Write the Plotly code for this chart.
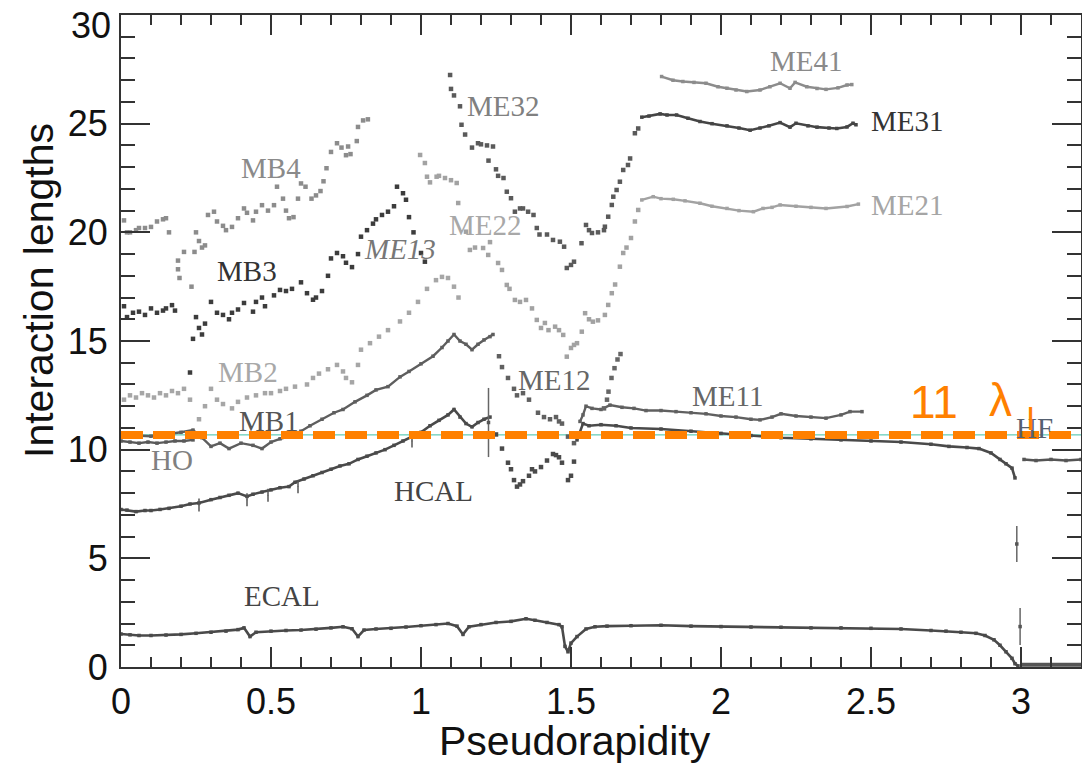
import plotly.graph_objects as go

# ---------------- data ----------------
ECAL_ETA = [0.00,0.03,0.06,0.10,0.15,0.20,0.25,0.30,0.35,0.39,0.41,0.43,0.45,0.50,0.55,0.60,0.65,0.70,0.74,0.77,
            0.79,0.81,0.85,0.90,0.95,1.00,1.05,1.09,1.12,1.14,1.16,1.20,1.25,1.30,1.35,1.38,1.42,1.46,1.47,1.48,
            1.49,1.50,1.52,1.55,1.58,1.62,1.70,1.80,1.90,2.00,2.10,2.20,2.30,2.40,2.50,2.60,2.70,2.75,2.80,2.85,
            2.88,2.91,2.93,2.95,2.97,2.98,2.99]
ECAL_VAL = [1.52,1.48,1.45,1.45,1.47,1.50,1.55,1.60,1.65,1.72,1.80,1.40,1.60,1.65,1.68,1.70,1.74,1.80,1.85,1.76,
            1.40,1.70,1.75,1.78,1.84,1.90,1.95,2.00,1.88,1.50,1.85,1.95,2.05,2.10,2.22,2.15,2.05,1.95,1.85,0.95,
            0.70,1.10,1.40,1.75,1.85,1.88,1.90,1.92,1.88,1.86,1.84,1.83,1.80,1.80,1.78,1.75,1.68,1.65,1.60,1.55,
            1.45,1.25,1.00,0.70,0.40,0.15,0.05]

HF_FLOOR_ETA = [3.00, 3.05, 3.10, 3.15, 3.20]
HF_FLOOR_VAL = [0.10, 0.10, 0.10, 0.10, 0.10]

HCAL_ETA = [0.00,0.02,0.05,0.08,0.10,0.13,0.16,0.20,0.23,0.26,0.30,0.33,0.36,0.39,0.42,0.44,0.47,0.50,0.53,0.56,
            0.58,0.61,0.64,0.67,0.70,0.73,0.76,0.79,0.82,0.85,0.88,0.91,0.94,0.97,1.00,1.03,1.06,1.09,1.11,1.13,
            1.15,1.17,1.19,1.21,1.23]
HCAL_VAL = [7.25,7.22,7.15,7.20,7.20,7.25,7.30,7.40,7.50,7.55,7.70,7.80,7.90,8.00,7.85,7.95,8.05,8.15,8.25,8.30,
            8.50,8.65,8.80,8.95,9.10,9.25,9.35,9.55,9.70,9.85,10.00,10.20,10.40,10.60,10.80,11.10,11.35,11.60,11.85,11.50,
            11.20,11.05,11.25,11.40,11.50]

HCAL_GAP_ETA = [1.25,1.27,1.29,1.30,1.31,1.32,1.33,1.34,1.36,1.37,1.38,1.40,1.42,1.44,1.45,1.46,1.47,1.49,1.50,1.51]
HCAL_GAP_VAL = [10.70,10.05,9.40,9.10,8.60,8.30,8.40,8.55,8.80,9.10,9.00,9.20,9.50,9.80,9.75,9.65,9.40,8.60,8.80,9.45]

HCAL_END_ETA = [1.52,1.54,1.56,1.60,1.65,1.70,1.80,1.90,2.00,2.10,2.20,2.30,2.40,2.50,2.60,2.70,2.76,2.82,2.86,2.90,
                2.93,2.95,2.97,2.98]
HCAL_END_VAL = [10.45,11.20,11.10,11.15,11.10,11.00,10.95,10.85,10.75,10.65,10.55,10.50,10.45,10.40,10.35,10.25,10.15,10.10,10.05,9.85,
                9.55,9.35,9.15,8.70]

HCAL_TICK_ETA = [0.26, 0.42, 0.49, 0.59, 0.97]
HCAL_TICK_VAL = [7.45, 7.70, 7.90, 8.30, 10.40]
HCAL_TICK_HALF = [0.30, 0.30, 0.30, 0.30, 0.30]

HF_ETA = [3.01, 3.05, 3.10, 3.15, 3.20]
HF_VAL = [9.55, 9.50, 9.55, 9.50, 9.55]

HO_ETA = [0.00,0.03,0.06,0.09,0.12,0.15,0.18,0.21,0.24]
HO_VAL = [10.40,10.35,10.30,10.35,10.30,10.35,10.40,10.40,10.45]

MB1_ETA = [0.01,0.05,0.10,0.15,0.20,0.24,0.27,0.30,0.33,0.36,0.40,0.44,0.47,0.50,0.53,0.56,0.60,0.63,0.67,0.71,
           0.74,0.78,0.82,0.85,0.89,0.93,0.96,1.00,1.04,1.07,1.09,1.11,1.13,1.15,1.17,1.19,1.21,1.23,1.24]
MB1_VAL = [10.75,10.65,10.62,10.70,10.80,10.90,10.55,10.15,10.30,10.05,10.30,10.20,10.05,10.35,10.50,10.60,10.85,11.10,11.40,11.70,
           11.85,12.20,12.50,12.75,12.90,13.35,13.60,13.95,14.30,14.70,15.00,15.30,15.00,14.85,14.60,14.85,15.05,15.20,15.30]

ME12_ETA = [1.26,1.27,1.29,1.31,1.32,1.34,1.36,1.39,1.41,1.43,1.45,1.46,1.47,1.49,1.51]
ME12_VAL = [14.30,13.80,13.30,12.80,12.50,12.60,12.30,11.70,11.50,11.40,11.50,11.30,11.20,10.60,10.30]

ME11_ETA = [1.53,1.54,1.55,1.57,1.60,1.63,1.67,1.71,1.75,1.80,1.85,1.90,1.95,2.00,2.05,2.10,2.13,2.17,2.20,2.25,
            2.30,2.35,2.40,2.43,2.47]
ME11_VAL = [11.30,11.60,12.00,11.90,11.85,12.05,11.95,11.90,11.80,11.80,11.75,11.70,11.65,11.55,11.50,11.40,11.37,11.50,11.65,11.55,
            11.50,11.45,11.60,11.75,11.75]

ME13_LOW_ETA = [1.610,1.620,1.625,1.635,1.645,1.655,1.665]
ME13_LOW_VAL = [11.90,12.30,12.67,13.30,13.75,14.15,14.40]

MB2_ETA = [0.01,0.03,0.05,0.07,0.09,0.11,0.13,0.15,0.17,0.19,0.21,0.23,0.26,0.28,0.30,0.32,0.34,0.37,0.39,0.42,
           0.45,0.48,0.50,0.53,0.55,0.58,0.62,0.64,0.66,0.69,0.72,0.74,0.75,0.77,0.79,0.80,0.83,0.86,0.89,0.93,
           0.96,0.99,1.02,1.05,1.07,1.09,1.11,1.125]
MB2_VAL = [12.30,12.50,12.40,12.60,12.50,12.40,12.60,12.50,12.70,12.60,12.80,12.30,11.40,12.00,12.80,12.30,12.10,11.90,12.20,12.40,
           12.50,12.60,12.60,12.70,12.80,12.90,13.00,13.30,13.50,13.70,13.90,13.60,13.30,13.10,13.90,14.60,14.90,15.20,15.50,15.90,
           16.30,16.80,17.40,17.80,17.95,17.90,17.50,17.00]

MB3_ETA = [0.01,0.02,0.04,0.06,0.08,0.10,0.12,0.14,0.15,0.17,0.18,0.23,0.24,0.25,0.26,0.27,0.28,0.30,0.32,0.34,
           0.36,0.37,0.39,0.41,0.44,0.45,0.47,0.48,0.51,0.53,0.55,0.57,0.60,0.62,0.64,0.65,0.67,0.69,0.70,0.72,
           0.74,0.75,0.77,0.79,0.80,0.82,0.84,0.85,0.87,0.89,0.91,0.92,0.94,0.95,0.96,0.975,1.00,1.013]
MB3_VAL = [16.60,16.10,16.30,16.35,16.20,16.50,16.30,16.40,16.50,16.65,16.40,13.55,15.10,16.10,15.60,15.30,15.80,16.80,16.30,16.20,
           16.00,16.30,16.45,16.75,16.35,16.80,17.00,16.60,17.10,17.35,17.30,17.40,17.70,17.20,16.90,17.00,17.30,18.00,18.80,19.05,
           18.90,18.60,18.40,19.00,19.80,20.10,20.40,20.60,20.80,20.95,21.20,22.10,21.80,21.50,20.70,20.00,19.05,18.65]

MB4_ETA = [0.01,0.02,0.03,0.05,0.06,0.08,0.10,0.12,0.14,0.15,0.16,0.19,0.19,0.195,0.21,0.235,0.245,0.25,0.26,0.27,
           0.28,0.29,0.31,0.32,0.34,0.35,0.37,0.39,0.41,0.42,0.44,0.45,0.47,0.49,0.51,0.52,0.54,0.55,0.56,0.575,
           0.59,0.60,0.615,0.635,0.65,0.665,0.675,0.685,0.70,0.72,0.735,0.75,0.757,0.765,0.786,0.79,0.807,0.823]
MB4_VAL = [20.55,20.00,20.00,20.10,20.20,20.20,20.25,20.50,20.60,20.65,20.00,18.70,18.30,17.90,19.10,17.50,19.10,20.00,19.60,19.30,
           19.40,20.80,20.95,20.50,20.30,20.10,20.25,20.65,21.10,20.90,20.55,20.95,21.25,21.00,21.25,22.10,21.55,21.00,20.65,20.70,
           21.55,22.25,22.10,21.55,21.70,21.90,22.35,22.95,23.70,24.10,23.90,23.55,23.95,23.60,24.20,24.85,25.15,25.20]

ME32_ETA = [1.097,1.100,1.110,1.130,1.135,1.147,1.170,1.190,1.200,1.220,1.240,1.225,1.250,1.257,1.275,1.286,1.300,1.313,1.330,1.340,
            1.357,1.375,1.386,1.395,1.420,1.440,1.463,1.477,1.486,1.500,1.510,1.535,1.550,1.560,1.570,1.590,1.610,1.613,1.624,1.636,
            1.641,1.652,1.663,1.674,1.690,1.697,1.713,1.724]
ME32_VAL = [27.24,26.60,26.30,25.80,24.95,24.50,23.90,24.10,24.05,24.00,23.95,23.30,22.90,22.60,22.50,21.87,21.57,20.95,21.10,21.10,
            20.95,20.80,20.20,19.90,19.90,19.65,19.57,19.34,18.36,18.50,18.65,19.50,20.34,20.10,19.97,20.00,20.10,20.26,20.72,21.26,
            21.64,21.95,22.33,22.87,23.10,23.40,24.56,24.78]

ME31_ETA = [1.736,1.760,1.797,1.820,1.852,1.890,1.930,1.970,2.020,2.060,2.097,2.130,2.160,2.197,2.230,2.250,2.290,2.320,2.360,2.386,
            2.420,2.440,2.450]
ME31_VAL = [25.30,25.35,25.45,25.40,25.40,25.25,25.10,25.00,24.90,24.80,24.70,24.80,24.90,25.05,24.84,25.02,24.90,24.84,24.80,24.78,
            24.85,25.02,24.95]

ME22_ETA = [0.997,1.013,1.020,1.030,1.052,1.060,1.080,1.100,1.119,1.124,1.150,1.163,1.180,1.207,1.224,1.230,1.257,1.270,1.286,1.295,
            1.313,1.330,1.350,1.370,1.386,1.400,1.413,1.425,1.447,1.460,1.474,1.486,1.500,1.510,1.520,1.536,1.547,1.560,1.573,1.590,
            1.613,1.624,1.636,1.647,1.663,1.674,1.685,1.700,1.713,1.724]
ME22_VAL = [23.56,23.19,22.56,22.30,22.56,22.60,22.50,22.40,22.27,21.35,20.03,19.19,19.30,19.28,18.96,19.55,18.59,18.27,17.58,17.40,
            16.89,16.80,16.89,16.50,15.97,15.60,15.83,15.50,15.66,15.50,15.28,14.28,14.68,14.82,14.90,15.43,16.28,16.00,15.89,15.95,
            16.20,16.66,17.20,17.60,18.42,19.05,19.30,19.74,20.50,21.03]

ME21_ETA = [1.736,1.774,1.800,1.841,1.880,1.930,1.970,2.020,2.060,2.108,2.140,2.170,2.197,2.250,2.300,2.350,2.420,2.458]
ME21_VAL = [21.49,21.64,21.55,21.52,21.45,21.34,21.20,21.10,21.00,20.95,21.10,21.15,21.26,21.20,21.15,21.10,21.19,21.30]

ME41_ETA = [1.802,1.840,1.873,1.910,1.950,1.990,2.020,2.050,2.086,2.130,2.163,2.197,2.230,2.247,2.286,2.320,2.350,2.390,2.420,2.436]
ME41_VAL = [27.17,27.00,26.94,26.90,26.86,26.70,26.63,26.55,26.48,26.55,26.70,26.86,26.63,26.90,26.70,26.62,26.58,26.65,26.78,26.80]

ERR_ETA = [1.225, 2.986, 2.997]
ERR_VAL = [11.25, 5.66, 1.86]
ERR_HALF = [1.59, 0.83, 0.85]

LAMBDA_LEVEL = 10.68

X_TICKS = [0, 0.5, 1, 1.5, 2, 2.5, 3]
X_TICK_TEXT = ["0", "0.5", "1", "1.5", "2", "2.5", "3"]
Y_TICKS = [0, 5, 10, 15, 20, 25, 30]
Y_TICK_TEXT = ["0", "5", "10", "15", "20", "25", "30"]

LABEL_TEXT = ["MB4", "MB3", "ME13", "ME32", "ME22", "ME41", "ME31", "ME21",
              "MB2", "MB1", "ME12", "ME11", "HO", "HCAL", "ECAL", "HF"]

# ---------------- layout helpers ----------------
W, H = 1082, 765
ML, MR, MT, MB = 121, 1, 15, 98
XMAX, YMAX = 3.2, 30.0
PW, PH = W - ML - MR, H - MT - MB


def px2x(px):
    return (px - ML) / PW * XMAX


def py2y(py):
    return (H - MB - py) / PH * YMAX


fig = go.Figure()


def dots(x, y, color, size=4, line=None):
    mode = "markers" if line is None else "lines+markers"
    fig.add_trace(go.Scatter(
        x=x, y=y, mode=mode, hoverinfo="skip", showlegend=False, cliponaxis=True,
        marker=dict(symbol="square", size=size, color=color, line=dict(width=0)),
        line=dict(color=color, width=line if line else 1)))


# thin teal reference line under the orange dashed 11 lambda line
fig.add_trace(go.Scatter(x=[0, XMAX], y=[LAMBDA_LEVEL, LAMBDA_LEVEL], mode="lines",
                         line=dict(color="#3cbfa5", width=1), hoverinfo="skip", showlegend=False))

dots(ECAL_ETA, ECAL_VAL, "#4a4a4a", 3.5, 2.6)
dots(HF_FLOOR_ETA, HF_FLOOR_VAL, "#555555", 2, 4)
dots(HCAL_ETA, HCAL_VAL, "#4a4a4a", 3.5, 2.6)
dots(HCAL_GAP_ETA, HCAL_GAP_VAL, "#4a4a4a", 4.5)
dots(HCAL_END_ETA, HCAL_END_VAL, "#4a4a4a", 3.5, 2.6)
dots(HF_ETA, HF_VAL, "#555555", 3.5, 2.6)
dots(HO_ETA, HO_VAL, "#5a5a5a", 3.5, 2.4)
dots(MB1_ETA, MB1_VAL, "#5e5e5e", 3.5, 2.4)
dots(ME12_ETA, ME12_VAL, "#606060", 4.5)
dots(ME11_ETA, ME11_VAL, "#606060", 3.5, 2.4)
dots(ME13_LOW_ETA, ME13_LOW_VAL, "#666666", 4.5)
dots(MB2_ETA, MB2_VAL, "#a6a6a6", 4.5)
dots(MB3_ETA, MB3_VAL, "#3c3c3c", 4.5)
dots(MB4_ETA, MB4_VAL, "#8c8c8c", 4.5)
dots(ME32_ETA, ME32_VAL, "#5a5a5a", 4.5)
dots(ME31_ETA, ME31_VAL, "#454545", 3.5, 2.6)
dots(ME22_ETA, ME22_VAL, "#a2a2a2", 4.5)
dots(ME21_ETA, ME21_VAL, "#a2a2a2", 3.5, 2.4)
dots(ME41_ETA, ME41_VAL, "#8c8c8c", 3.5, 2.4)

fig.add_trace(go.Scatter(
    x=ERR_ETA, y=ERR_VAL, mode="markers", hoverinfo="skip", showlegend=False,
    marker=dict(symbol="square", size=3.5, color="#555555"),
    error_y=dict(type="data", array=ERR_HALF, visible=True, color="#666666", thickness=1.5, width=0)))

fig.add_trace(go.Scatter(
    x=HCAL_TICK_ETA, y=HCAL_TICK_VAL, mode="markers", hoverinfo="skip", showlegend=False,
    marker=dict(size=1, color="#555555"),
    error_y=dict(type="data", array=HCAL_TICK_HALF, visible=True, color="#555555", thickness=1.5, width=0)))

fig.add_trace(go.Scatter(x=[0, XMAX], y=[LAMBDA_LEVEL, LAMBDA_LEVEL], mode="lines",
                         line=dict(color="#ff8000", width=8, dash="22px,10px"),
                         hoverinfo="skip", showlegend=False))

# ---------------- labels ----------------
SERIF = "Liberation Serif, Times New Roman, serif"
label_pos = [(271, 165), (247, 268), (400, 246), (503, 103), (485, 222), (806, 58), (907, 118), (907, 202),
             (248, 369), (269, 418), (554, 377), (727, 393), (172, 457), (433, 488), (282, 593), (1034, 425)]
label_col = ["#8a8a8a", "#333333", "#777777", "#808080", "#a8a8a8", "#8a8a8a", "#333333", "#a5a5a5",
             "#a8a8a8", "#555555", "#666666", "#666666", "#808080", "#444444", "#444444", "#556070"]
annotations = []
for txt, (px, py), col in zip(LABEL_TEXT, label_pos, label_col):
    t = "<i>%s</i>" % txt if txt == "ME13" else txt
    annotations.append(dict(x=px2x(px), y=py2y(py), xref="x", yref="y", text=t, showarrow=False,
                            xanchor="center", yanchor="middle", yshift=-3,
                            font=dict(family=SERIF, size=29, color=col)))

SANS = "Liberation Sans, Arial, Helvetica, sans-serif"
ORANGE = "#ff8000"
annotations += [
    dict(x=px2x(934), y=py2y(398), xref="x", yref="y", text="11", showarrow=False,
         xanchor="center", yanchor="middle", yshift=-4, font=dict(family=SANS, size=46, color=ORANGE)),
    dict(x=px2x(1000), y=py2y(398), xref="x", yref="y", text="λ", showarrow=False,
         xanchor="center", yanchor="middle", yshift=-2, font=dict(family=SANS, size=46, color=ORANGE)),
    dict(x=px2x(1030), y=py2y(416), xref="x", yref="y", text="I", showarrow=False,
         xanchor="center", yanchor="middle", yshift=-2, font=dict(family=SANS, size=33, color=ORANGE)),
    dict(x=(437 - ML) / PW, y=(H - MB - 716) / PH, xref="paper", yref="paper", text="Pseudorapidity",
         showarrow=False, xanchor="left", yanchor="top",
         font=dict(family=SANS, size=41, color="#111111")),
    dict(x=(39 - ML) / PW, y=(H - MB - 291) / PH, xref="paper", yref="paper", text="Interaction lengths",
         showarrow=False, xanchor="center", yanchor="middle", textangle=-90,
         font=dict(family=SANS, size=41, color="#111111")),
    # top y tick label, set slightly below the frame edge as in the reference
    dict(x=(113 - ML) / PW, y=(H - MB - 25) / PH, xref="paper", yref="paper", text=Y_TICK_TEXT[-1],
         showarrow=False, xanchor="right", yanchor="middle",
         font=dict(family=SANS, size=36, color="#111111")),
]

y_tick_text_shown = Y_TICK_TEXT[:-1] + [""]

axis_common = dict(showgrid=False, zeroline=False, showline=True, linecolor="#333333", linewidth=2,
                   mirror="ticks", ticks="inside", tickcolor="#333333", tickwidth=2, automargin=False,
                   ticklabeloverflow="allow",
                   tickfont=dict(family=SANS, size=36, color="#111111"))

fig.update_layout(
    width=W, height=H, margin=dict(l=ML, r=MR, t=MT, b=MB, autoexpand=False),
    paper_bgcolor="white", plot_bgcolor="white", showlegend=False,
    annotations=annotations,
    xaxis=dict(range=[0, XMAX], tickvals=X_TICKS, ticktext=X_TICK_TEXT, ticklen=20,
               ticklabelstandoff=2,
               minor=dict(dtick=0.1, ticks="inside", ticklen=10, tickcolor="#333333", tickwidth=1.5),
               **axis_common),
    yaxis=dict(range=[0, YMAX + 0.001], tickvals=Y_TICKS, ticktext=y_tick_text_shown, ticklen=29,
               ticklabelstandoff=4,
               minor=dict(dtick=1, ticks="inside", ticklen=14, tickcolor="#333333", tickwidth=1.5),
               **axis_common),
)

fig.write_html("out.html", config={"displayModeBar": False},
               post_script="document.body.style.margin='0';document.body.style.padding='0';"
                           "document.documentElement.style.overflow='hidden';")
